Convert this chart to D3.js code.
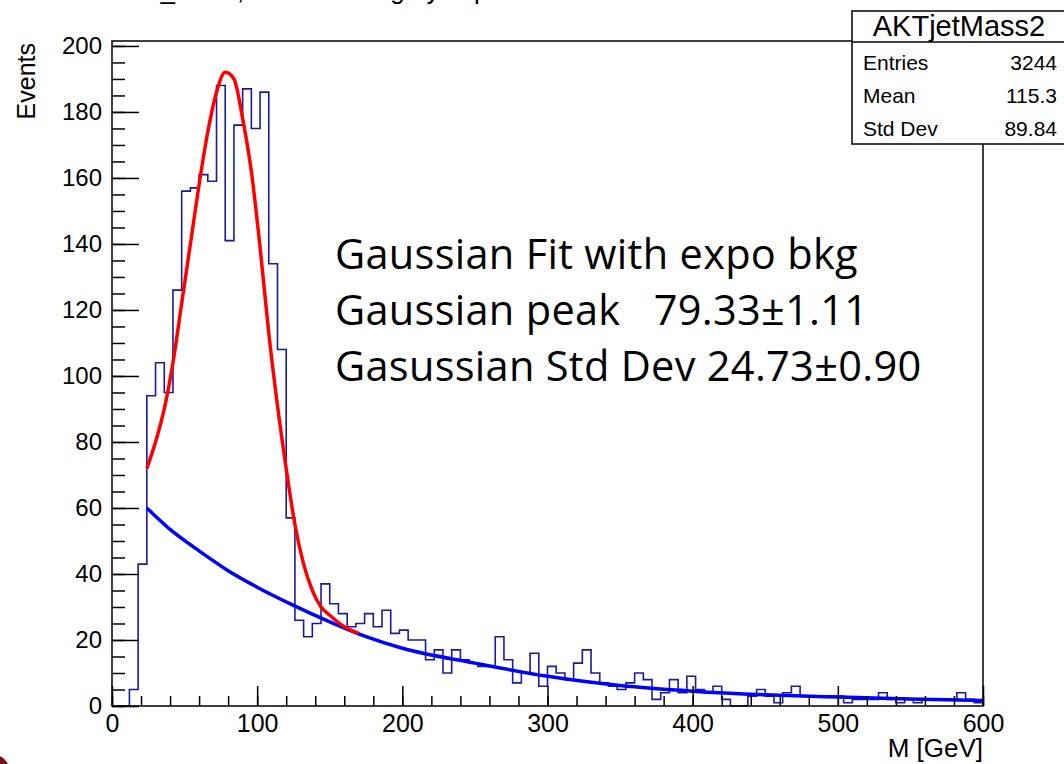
<!DOCTYPE html>
<html>
<head>
<meta charset="utf-8">
<script src="https://cdn.jsdelivr.net/npm/d3@7"></script>
<style>
  body { margin: 0; background: #fff; }
  svg { display: block; }
</style>
</head>
<body>
<div id="chart"></div>
<script>
// histogram, 100 bins of 6 GeV from 0 to 600
const binWidth = 6;
const counts = [
  0, 0, 5, 43, 94, 104, 95, 126, 156, 157,
  161, 159, 188, 141, 176, 187, 175, 186, 134, 108,
  57, 26, 21, 25, 37, 31, 28, 24, 25, 28,
  24, 29, 22, 23, 20, 20, 14, 17, 10, 17,
  14, 13, 12, 12, 21, 14, 7, 10, 16, 6,
  12, 10, 8, 13, 17, 10, 7, 6, 5, 7,
  10, 8, 2, 4, 8, 4, 9, 5, 4, 6,
  2, 0, 0, 3, 5, 3, 1, 4, 6, 3,
  3, 3, 3, 3, 1, 2, 2, 2, 4, 2,
  1, 2, 1, 2, 2, 2, 2, 4, 2, 1
];

// fit curves: [mass, events]
const totalFit = [
  [24, 72], [30, 80], [36, 90], [42, 104], [48, 122], [54, 140], [60, 158],
  [66, 174], [72, 186], [78, 192], [84, 190], [90, 178], [96, 162], [102, 139],
  [108, 113], [114, 91], [120, 72], [126, 55], [132, 43], [138, 35], [144, 30],
  [150, 27.5], [160, 24], [170, 22]
];
const bkgFit = [
  [24, 60], [40, 53.5], [60, 47], [80, 41], [100, 36], [125, 30.5], [150, 25.5],
  [175, 21], [200, 17.5], [250, 13], [300, 9], [350, 6.2], [400, 4.5],
  [450, 3.4], [500, 2.7], [550, 2.1], [600, 1.7]
];

const xMajor = [0, 100, 200, 300, 400, 500, 600];
const xMinor = d3.range(0, 601, 20);
const yMajor = [0, 20, 40, 60, 80, 100, 120, 140, 160, 180, 200];
const yMinor = d3.range(0, 201, 5);

const statsTitle = "AKTjetMass2";
const statsRows = [["Entries", "3244"], ["Mean", "115.3"], ["Std Dev", "89.84"]];
const noteLines = [
  "Gaussian Fit with expo bkg",
  "Gaussian peak   79.33\u00b11.11",
  "Gasussian Std Dev 24.73\u00b10.90"
];
const plotTitle = "Jet_Mass, Gauss Fitting by expo";

const width = 1064, height = 764;
const frame = {left: 112, right: 983, top: 41, bottom: 706};
const helv = "'Liberation Sans', Arial, Helvetica, sans-serif";

const svg = d3.select("#chart").append("svg")
  .attr("width", width)
  .attr("height", height)
  .attr("viewBox", [0, 0, width, height]);

const x = d3.scaleLinear().domain([0, 600]).range([frame.left, frame.right]);
const y = d3.scaleLinear().domain([0, 201.5]).range([frame.bottom, frame.top]);

// title, cut off at the top edge like in the slide
svg.append("text")
  .attr("x", 503).attr("y", -1.5)
  .attr("text-anchor", "end")
  .attr("font-family", helv)
  .attr("font-size", 26)
  .text(plotTitle);

// histogram outline
const histPoints = [[0, 0]].concat(counts.map((c, i) => [i * binWidth, c]), [[600, 0]]);
const stepLine = d3.line()
  .x(d => x(d[0]))
  .y(d => y(d[1]))
  .curve(d3.curveStepAfter);

svg.append("path")
  .datum(histPoints)
  .attr("d", stepLine)
  .attr("fill", "none")
  .attr("stroke", "#1a1a9c")
  .attr("stroke-width", 1.6);

const fitLine = d3.line()
  .x(d => x(d[0]))
  .y(d => y(d[1]))
  .curve(d3.curveMonotoneX);

svg.append("path")
  .datum(bkgFit)
  .attr("d", fitLine)
  .attr("fill", "none")
  .attr("stroke", "#0000ff")
  .attr("stroke-width", 3.5);

svg.append("path")
  .datum(totalFit)
  .attr("d", fitLine)
  .attr("fill", "none")
  .attr("stroke", "#ff0000")
  .attr("stroke-width", 3.5);

// frame
svg.append("rect")
  .attr("x", frame.left).attr("y", frame.top)
  .attr("width", frame.right - frame.left)
  .attr("height", frame.bottom - frame.top)
  .attr("fill", "none")
  .attr("stroke", "#000")
  .attr("stroke-width", 1.5);

// axes
function styleAxis(g){
  g.select(".domain").remove();
  g.selectAll(".tick line").attr("stroke", "#000").attr("stroke-width", 1.5);
}

svg.append("g")
  .attr("transform", `translate(${frame.left},0)`)
  .call(d3.axisLeft(y).tickValues(yMinor).tickSize(-13).tickFormat(""))
  .call(styleAxis);

svg.append("g")
  .attr("transform", `translate(${frame.left},0)`)
  .call(d3.axisLeft(y).tickValues(yMajor).tickSizeInner(-27).tickSizeOuter(0).tickPadding(10))
  .call(styleAxis)
  .call(g => g.selectAll("text")
    .attr("font-family", helv)
    .attr("font-size", 24)
    .attr("fill", "#000"));

svg.append("g")
  .attr("transform", `translate(0,${frame.bottom})`)
  .call(d3.axisBottom(x).tickValues(xMinor).tickSize(-10).tickFormat(""))
  .call(styleAxis);

svg.append("g")
  .attr("transform", `translate(0,${frame.bottom})`)
  .call(d3.axisBottom(x).tickValues(xMajor).tickSizeInner(-20).tickSizeOuter(0).tickPadding(8))
  .call(styleAxis)
  .call(g => g.selectAll("text")
    .attr("font-family", helv)
    .attr("font-size", 25)
    .attr("fill", "#000"));

// axis titles
svg.append("text")
  .attr("transform", "translate(35,43) rotate(-90)")
  .attr("text-anchor", "end")
  .attr("font-family", helv)
  .attr("font-size", 25)
  .text("Events");

svg.append("text")
  .attr("x", frame.right).attr("y", 757)
  .attr("text-anchor", "end")
  .attr("font-family", helv)
  .attr("font-size", 26)
  .text("M [GeV]");

// stats box
const box = svg.append("g");
box.append("rect")
  .attr("x", 852).attr("y", 11)
  .attr("width", 214).attr("height", 133)
  .attr("fill", "#fff")
  .attr("stroke", "#000")
  .attr("stroke-width", 1.5);
box.append("line")
  .attr("x1", 852).attr("x2", 1066)
  .attr("y1", 42).attr("y2", 42)
  .attr("stroke", "#000")
  .attr("stroke-width", 1.5);
box.append("text")
  .attr("x", 959).attr("y", 36)
  .attr("text-anchor", "middle")
  .attr("font-family", helv)
  .attr("font-size", 29)
  .text(statsTitle);

statsRows.forEach(function(row, i){
  box.append("text")
    .attr("x", 863).attr("y", 70 + i * 33)
    .attr("font-family", helv)
    .attr("font-size", 21)
    .text(row[0]);
  box.append("text")
    .attr("x", 1057).attr("y", 70 + i * 33)
    .attr("text-anchor", "end")
    .attr("font-family", helv)
    .attr("font-size", 21)
    .text(row[1]);
});

// fit results note
svg.append("g")
  .selectAll("text")
  .data(noteLines)
  .enter().append("text")
    .attr("x", 335)
    .attr("y", (d, i) => 269 + i * 56)
    .attr("font-family", "'Open Sans', 'Noto Sans', sans-serif")
    .attr("font-size", 41.5)
    .attr("letter-spacing", 0.3)
    .style("white-space", "pre")
    .text(d => d);

// slide corner decoration
svg.append("circle")
  .attr("cx", -6).attr("cy", 770)
  .attr("r", 15)
  .attr("fill", "#7a1212");
</script>
</body>
</html>
